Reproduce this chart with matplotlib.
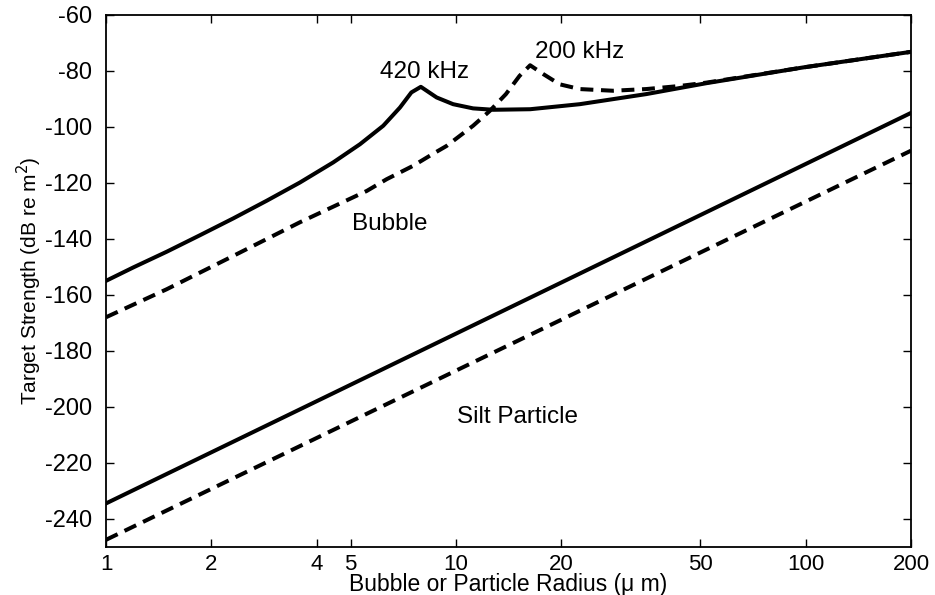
import matplotlib.pyplot as plt
from matplotlib.ticker import FixedLocator, NullLocator, FixedFormatter

# bubble, 420 kHz (solid)
bub420_r = [1.0, 1.197, 1.491, 1.856, 2.31, 2.878, 3.58, 4.46, 5.32, 6.20, 6.92, 7.46, 7.94,
            8.81, 9.82, 11.2, 12.8, 16.3, 22.6, 35.0, 52.0, 98.0, 200.0]
bub420_ts = [-155.0, -150.2, -144.6, -138.7, -132.7, -126.4, -119.9, -112.7, -106.2, -99.6, -93.1, -87.7, -85.7,
             -89.5, -91.9, -93.4, -93.9, -93.7, -91.9, -88.3, -84.4, -78.8, -73.2]

# bubble, 200 kHz (dashed)
bub200_r = [1.0, 1.491, 2.31, 3.58, 5.56, 6.34, 7.55, 8.61, 9.41, 11.2, 12.5, 13.9, 15.2, 16.3,
            17.8, 19.8, 22.6, 28.1, 35.0, 43.6, 52.0, 98.0, 200.0]
bub200_ts = [-168.0, -158.0, -146.1, -134.1, -122.9, -118.7, -113.9, -109.6, -106.8, -99.6, -94.3, -88.3, -81.8, -78.0,
             -81.2, -84.8, -86.5, -87.1, -86.5, -85.4, -84.2, -78.8, -73.2]

# silt particle, 420 kHz (solid) and 200 kHz (dashed)
silt_r = [1.0, 200.0]
silt420_ts = [-234.5, -95.0]
silt200_ts = [-247.5, -108.5]

xticks = [1, 2, 4, 5, 10, 20, 50, 100, 200]
yticks = list(range(-240, -59, 20))

plt.rcParams['font.family'] = ['Liberation Sans', 'DejaVu Sans']
plt.rcParams['axes.unicode_minus'] = False

fig = plt.figure(figsize=(9.35, 5.95), dpi=100)
ax = fig.add_axes([0.1134, 0.081, 0.861, 0.894])

lw = 2.9
dash = (0, (3.2, 1.9))
ax.plot(bub420_r, bub420_ts, color='black', lw=lw, solid_joinstyle='round')
ax.plot(bub200_r, bub200_ts, color='black', lw=lw, linestyle=dash)
ax.plot(silt_r, silt420_ts, color='black', lw=lw)
ax.plot(silt_r, silt200_ts, color='black', lw=lw, linestyle=dash)

ax.set_xscale('log')
ax.set_xlim(1, 200)
ax.set_ylim(-250, -60)
ax.xaxis.set_major_locator(FixedLocator(xticks))
ax.xaxis.set_major_formatter(FixedFormatter([str(t) for t in xticks]))
ax.xaxis.set_minor_locator(NullLocator())
ax.set_yticks(yticks)
ax.tick_params(direction='in', top=True, right=True, length=6, width=1)
ax.tick_params(axis='x', pad=5, labelsize=16)
ax.tick_params(axis='y', pad=10, labelsize=17)

fs = 17.5
ax.text(8.16, -80.5, '420 kHz', fontsize=fs, ha='center', va='center')
ax.text(22.6, -73.2, '200 kHz', fontsize=fs, ha='center', va='center')
ax.text(6.48, -134.8, 'Bubble', fontsize=fs, ha='center', va='center')
ax.text(15.0, -203.7, 'Silt Particle', fontsize=fs, ha='center', va='center')

ax.set_xlabel('Bubble or Particle Radius (\u03bc m)', fontsize=16.5, labelpad=-1)
ax.set_ylabel('Target Strength (dB re m$^2$)', fontsize=15, labelpad=1)

for s in ax.spines.values():
    s.set_linewidth(1.3)

fig.savefig('out.png', dpi=100)
